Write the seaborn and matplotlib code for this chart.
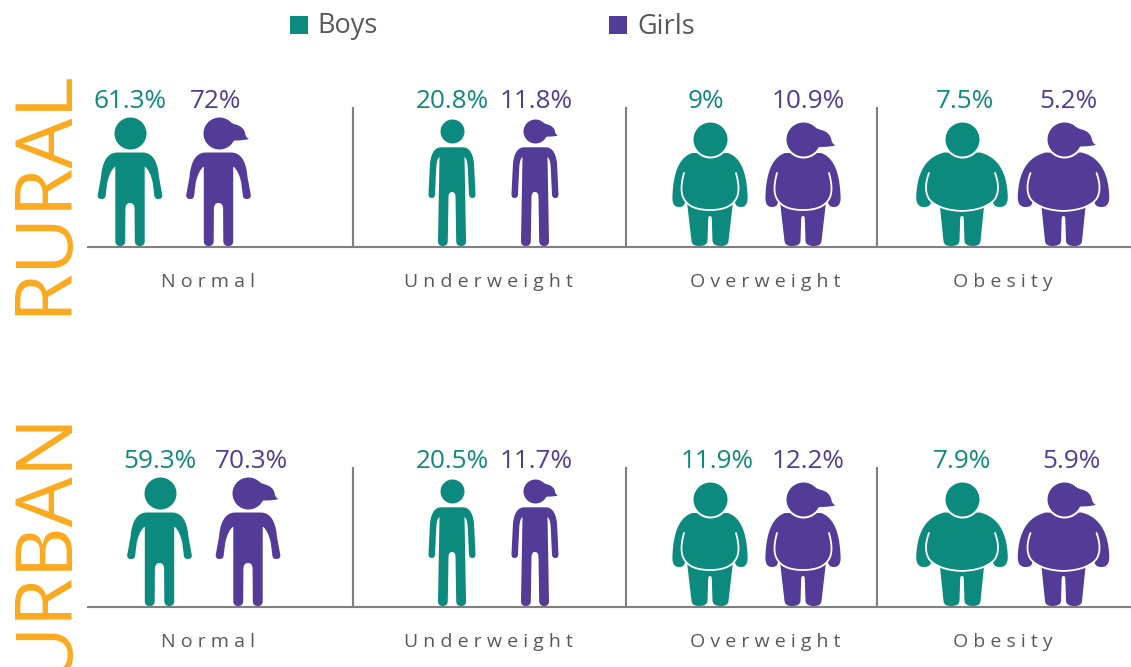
import numpy as np
import pandas as pd
import matplotlib
matplotlib.use("Agg")
import matplotlib.pyplot as plt
from matplotlib.patches import Polygon, Rectangle
import seaborn as sns

# ---------- data ----------
categories = ["Normal", "Underweight", "Overweight", "Obesity"]
rural_boys = [61.3, 20.8, 9, 7.5]
rural_girls = [72, 11.8, 10.9, 5.2]
urban_boys = [59.3, 20.5, 11.9, 7.9]
urban_girls = [70.3, 11.7, 12.2, 5.9]

# ---------- layout (pixels) ----------
TEAL, PURPLE = sns.color_palette(["#0D8A7E", "#533C97"])
ORANGE, LINE, TXT = "#FBAA1F", "#808080", "#595959"
FONT = "Open Sans"
W, H = 1131, 667
baselines = {"RURAL": 247, "URBAN": 607}
dividers = [353, 626, 877]
cat_x = [208, 488, 765, 1003]
icon_x = {"RURAL": {"Boys": [130, 452, 710, 962], "Girls": [218.5, 535, 803, 1063.5]},
          "URBAN": {"Boys": [159.5, 452, 710, 962], "Girls": [248, 535, 803, 1063.5]}}
label_x = {"RURAL": {"Boys": [130, 452, 706, 965], "Girls": [216, 536, 808, 1068]},
           "URBAN": {"Boys": [160, 452, 717, 962], "Girls": [251, 536, 808, 1071]}}
head = {"Normal": (114, 16), "Underweight": (116, 12), "Overweight": (108, 17), "Obesity": (108.5, 17)}


def trace(start, segs):
    """Flatten line / quadratic segments into points."""
    pts = [np.array(start, float)]
    for s in segs:
        if len(s) == 2:
            pts.append(np.array(s, float))
        else:
            p0, c, p1 = pts[-1], np.array(s[:2], float), np.array(s[2:], float)
            for t in np.linspace(0, 1, 14)[1:]:
                pts.append((1 - t) ** 2 * p0 + 2 * t * (1 - t) * c + t ** 2 * p1)
    return np.array(pts)


def mirror(half):
    other = half[::-1].copy()
    other[:, 0] *= -1
    return np.vstack([half, other])


# icon silhouettes: offset from icon centre, height above the baseline
shapes = {
    "Normal": [mirror(trace((0, 94.5), [(13, 94.5), (27, 94, 29, 70), (32.3, 52),
                                        (32.5, 48, 28.3, 48), (24.5, 48, 24.3, 52), (22.8, 64),
                                        (20.5, 75, 15.5, 80), (14.7, 80),
                                        (14.7, 6), (14.7, 1, 9.7, 1), (5, 1, 4.8, 6), (4.6, 38), (4.4, 44, 0, 44)]))],
    "Underweight": [mirror(trace((0, 99.7), [(11, 99.7), (20, 99.5, 22, 84), (23.5, 53), (23.6, 49, 20.3, 49),
                                             (17.1, 49, 17, 53), (15.7, 80), (15.2, 88, 12.5, 90),
                                             (14, 6), (14, 1, 9.2, 1), (4.4, 1, 4.2, 6), (3.5, 50), (3.3, 55, 0, 55)]))],
    "Overweight": [mirror(trace((0, 94), [(18, 94), (36, 88, 37.5, 52), (38.5, 40, 31, 40), (25, 40, 25, 46),
                                          (14, 36, 0, 36)])),
                   mirror(trace((0, 45), [(23, 45), (18.5, 6), (18, 1, 11, 1), (3, 1, 2.5, 6), (1.8, 28), (1.7, 31, 0, 31)]))],
    "Obesity": [mirror(trace((0, 94), [(18, 94.5), (44, 88, 45.7, 52), (46.5, 40, 38, 40), (31, 40, 31, 46),
                                       (16, 36, 0, 36)])),
                mirror(trace((0, 45), [(22.5, 45), (18.5, 6), (18, 1, 11, 1), (3, 1, 2.5, 6), (1.8, 28), (1.7, 31, 0, 31)]))],
}
belly_half = {
    "Overweight": trace((0, 37), [(20, 37, 26, 48), (31, 56, 26, 74)]),
    "Obesity": trace((0, 36), [(24, 37, 33, 48), (39, 58, 33, 74)]),
}
pony = trace((0.3, 0.85), [(0.6, 0.7, 1.0, 0.55), (1.6, 0.42, 1.68, -0.1), (1.74, -0.3, 1.91, -0.38),
                           (1.5, -0.47, 1.0, -0.47), (0.74, -0.5, 0.3, -0.7)])

# ---------- figure ----------
sns.set_theme(style="white")
fig = plt.figure(figsize=(W / 100, H / 100), dpi=100, facecolor="white")
ax = fig.add_axes([0, 0, 1, 1])
ax.set_axis_off()

# legend swatches and text
for name, x, tx, col in [("Boys", 290, 317, TEAL), ("Girls", 609, 637, PURPLE)]:
    ax.add_patch(Rectangle((x, 16), 18, 18, fc=col, ec="none"))
    ax.text(tx, 26.5, name, color=TXT, fontsize=19.5, family=FONT, va="center", ha="left")

# area titles
for word, start in [("RURAL", 315), ("URBAN", 676)]:
    ax.text(65.5, start, word, color=ORANGE, fontsize=57, family="Open Sans", rotation=90,
            va="baseline", ha="left", rotation_mode="anchor", clip_on=True)

panels = {"RURAL": (rural_boys, rural_girls), "URBAN": (urban_boys, urban_girls)}
rows = []
for panel, (boys, girls) in panels.items():
    base = baselines[panel]
    ax.plot([87, W], [base, base], color=LINE, lw=1.5, solid_capstyle="butt", zorder=1)
    for d in dividers:
        ax.plot([d, d], [base - 140, base], color=LINE, lw=1.5, solid_capstyle="butt", zorder=1)
    for i, cat in enumerate(categories):
        ax.text(cat_x[i], base + 35, " ".join(cat), color=TXT, fontsize=14, family=FONT,
                ha="center", va="center")
        for gender, vals, col in [("Boys", boys, TEAL), ("Girls", girls, PURPLE)]:
            xc = icon_x[panel][gender][i]
            for shp in shapes[cat]:
                ax.add_patch(Polygon(np.c_[xc + shp[:, 0], base - shp[:, 1]], closed=True, fc=col, ec="none", zorder=3))
            if cat in belly_half:
                b = belly_half[cat]
                ax.plot(xc + np.r_[-b[::-1, 0], b[:, 0]], base - np.r_[b[::-1, 1], b[:, 1]],
                        color="white", lw=1.3, zorder=4)
            h, r = head[cat]
            rows.append(dict(x=xc, y=base - h, gender=gender, category=cat, r=r))
            if gender == "Girls":
                ax.add_patch(Polygon(np.c_[xc + pony[:, 0] * r, base - h - pony[:, 1] * r], closed=True,
                                     fc=col, ec="none", zorder=7))
            ax.text(label_x[panel][gender][i], base - 146, f"{vals[i]:g}%", color=col, fontsize=18.8,
                    family=FONT, ha="center", va="center")

heads = pd.DataFrame(rows)
for (cat, gender), g in heads.groupby(["category", "gender"]):
    ring = 2.0 if cat in belly_half else 0.0          # white gap between head and shoulders (px)
    r = g["r"].iloc[0]
    sns.scatterplot(data=g, x="x", y="y", ax=ax, color=TEAL if gender == "Boys" else PURPLE,
                    s=((2 * r + ring) * 0.72) ** 2, edgecolor="white", linewidth=ring * 0.72,
                    zorder=6, legend=False)

ax.set_xlim(0, W)
ax.set_ylim(H, 0)
ax.set_xlabel("")
ax.set_ylabel("")
fig.savefig("out.png", dpi=100, facecolor="white")
